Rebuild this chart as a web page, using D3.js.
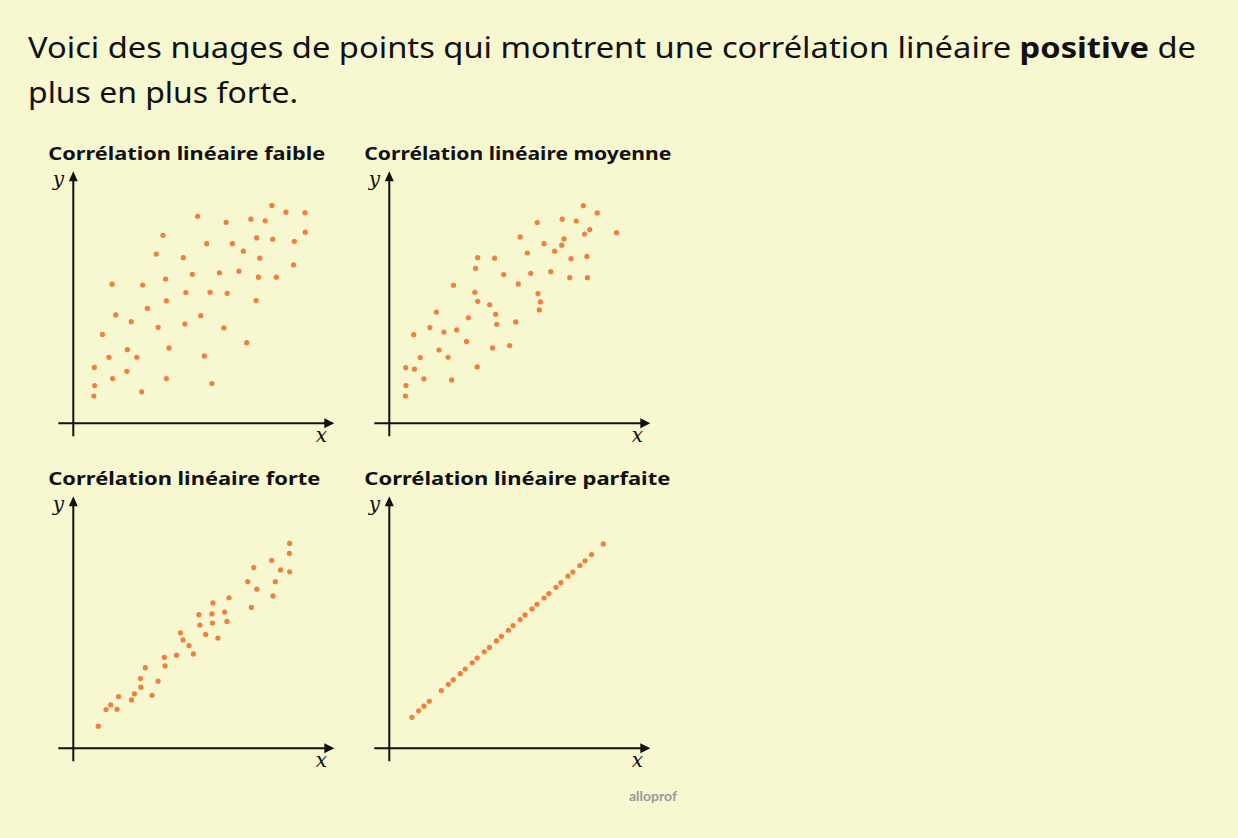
<!DOCTYPE html>
<html>
<head>
<meta charset="utf-8">
<script src="https://d3js.org/d3.v7.min.js"></script>
<style>
  body { margin: 0; background: #f7f7d0; }
  svg { display: block; }
</style>
</head>
<body>
<svg id="chart" width="1238" height="838"></svg>
<script>
// panel titles
const titles = ["Corrélation linéaire faible", "Corrélation linéaire moyenne",
                "Corrélation linéaire forte", "Corrélation linéaire parfaite"];

// points, x and y on a 0-100 scale
const faibleX = [7.9,8.2,8.1,15.1,13.7,11.2,16.3,14.9,20.6,20.8,24.4,26.3,22.3,28.5,26.7,32.6,31.9,34.5,35.5,35.8,36.8,35.8,42.3,43.3,42.9,45.8,47.8,49.0,50.4,51.3,52.6,53.3,56.2,57.9,58.8,59.2,61.2,63.7,65.4,66.7,68.3,70.3,70.5,71.2,71.7,73.8,76.4,76.7,78.1,81.8,84.7,85.0,89.1,89.2];
const faibleY = [10.5,14.5,21.5,17.2,25.4,34.2,41.7,53.5,20.0,28.3,25.4,12.1,39.1,44.2,53.2,36.9,65.1,72.3,55.5,47.1,29.0,17.2,63.7,50.3,38.2,57.3,79.6,41.4,25.9,69.1,50.4,15.3,57.9,36.7,77.3,50.0,69.1,58.5,66.2,31.0,78.5,47.2,71.3,56.2,63.5,77.9,83.8,70.8,56.2,81.2,60.9,70.0,81.0,73.5];

const moyenneX = [6.2,6.4,6.3,9.7,13.3,11.9,9.4,15.6,18.1,19.1,21.0,22.6,24.0,25.9,24.7,29.7,30.4,32.9,34.0,33.2,34.0,33.8,38.6,39.7,40.9,41.3,40.5,44.0,46.3,48.6,49.6,50.3,53.1,54.4,56.9,57.2,58.1,57.7,59.5,62.1,63.6,66.3,67.2,66.5,69.4,69.9,71.9,74.6,75.1,77.1,76.2,76.0,80.0,87.4];
const moyenneY = [10.5,14.5,21.4,20.8,17.1,25.3,34.1,36.8,42.8,28.2,35.1,25.4,16.7,35.9,53.1,31.5,40.6,50.4,46.9,59.6,63.7,21.7,45.6,29.0,41.9,38.1,63.5,57.2,29.9,39.0,53.6,71.7,65.5,57.7,77.2,49.9,46.7,43.6,69.1,58.3,66.2,68.5,70.9,78.5,56.0,63.3,77.8,83.7,72.8,74.5,56.0,64.2,80.9,73.3];

const forteX = [9.6,12.6,14.4,16.8,17.4,22.4,23.5,25.8,26.0,27.7,30.3,32.6,35.0,35.3,39.7,41.2,42.2,44.5,46.2,48.3,48.7,50.9,53.3,53.7,53.5,55.6,58.2,59.1,59.9,67.1,69.4,70.6,68.5,76.3,77.7,76.8,79.7,83.2,83.1,83.2];
const forteY = [8.5,14.9,16.7,15.0,19.9,18.6,20.9,26.8,23.5,31.0,20.4,25.8,35.0,31.7,35.8,44.4,41.7,39.5,36.3,51.4,47.4,43.8,51.7,55.9,48.2,42.4,52.4,48.8,57.9,64.1,69.5,61.2,54.2,72.3,64.1,58.6,68.6,78.8,75.0,67.9];

const parfaiteX = [8.7,11.3,13.3,15.4,20.0,22.7,24.6,27.3,29.2,31.9,33.8,36.5,38.5,41.2,43.1,45.8,47.6,50.3,52.2,54.9,56.8,59.5,61.4,64.1,66.0,68.7,70.6,73.3,75.3,77.8,82.3];
const parfaiteY = [11.9,14.4,16.2,18.1,22.2,24.6,26.4,28.7,30.5,32.9,34.7,37.1,38.8,41.3,43.1,45.4,47.2,49.5,51.3,53.6,55.4,57.8,59.5,61.9,63.7,66.2,67.8,70.3,72.1,74.5,78.6];

const seriesX = [faibleX, moyenneX, forteX, parfaiteX];
const seriesY = [faibleY, moyenneY, forteY, parfaiteY];

const svg = d3.select("#chart");
const ink = "#111";
const dotColor = "#f0803c";

// heading
const head = svg.append("text")
    .attr("x", 28).attr("y", 58)
    .attr("font-family", "Noto Sans").attr("font-size", 28.5).attr("fill", ink)
    .attr("textLength", 1168).attr("lengthAdjust", "spacingAndGlyphs");
head.append("tspan").text("Voici des nuages de points qui montrent une corrélation linéaire ");
head.append("tspan").attr("font-weight", "bold").text("positive");
head.append("tspan").text(" de");
svg.append("text")
    .attr("x", 28).attr("y", 103)
    .attr("font-family", "Noto Sans").attr("font-size", 28.5).attr("fill", ink)
    .attr("textLength", 270).attr("lengthAdjust", "spacingAndGlyphs")
    .text("plus en plus forte.");

const x = d3.scaleLinear().domain([0, 100]).range([0, 260]);
const y = d3.scaleLinear().domain([0, 100]).range([0, -260]);

const origins = [[73.3, 423.3], [389.3, 423.3], [73.3, 748.3], [389.3, 748.3]];
const titleWidths = [277, 307, 272, 306];

titles.forEach((t, i) => {
  const [ox, oy] = origins[i];

  svg.append("text")
     .attr("x", ox - 25).attr("y", oy - 263)
     .attr("font-family", "Noto Sans").attr("font-weight", "bold")
     .attr("font-size", 17.5).attr("fill", ink)
     .attr("textLength", titleWidths[i]).attr("lengthAdjust", "spacingAndGlyphs")
     .text(t);

  const g = svg.append("g").attr("transform", "translate(" + ox + "," + oy + ")");

  // axes with arrow heads
  g.append("line").attr("x1", -15).attr("y1", 0).attr("x2", 253).attr("y2", 0)
   .attr("stroke", ink).attr("stroke-width", 2);
  g.append("path").attr("d", "M261,0 L251,-5 L251,5 Z").attr("fill", ink);
  g.append("line").attr("x1", 0).attr("y1", 13).attr("x2", 0).attr("y2", -243)
   .attr("stroke", ink).attr("stroke-width", 2);
  g.append("path").attr("d", "M0,-252 L-4.5,-242 L4.5,-242 Z").attr("fill", ink);

  g.append("text").attr("x", 248).attr("y", 19)
   .attr("font-family", "DejaVu Serif").attr("font-style", "italic")
   .attr("font-size", 20).attr("fill", ink).attr("text-anchor", "middle").text("x");
  g.append("text").attr("x", -15).attr("y", -237)
   .attr("font-family", "DejaVu Serif").attr("font-style", "italic")
   .attr("font-size", 20).attr("fill", ink).attr("text-anchor", "middle").text("y");

  const pts = seriesX[i].map((v, k) => ({x: v, y: seriesY[i][k]}));
  g.selectAll("circle")
   .data(pts)
   .join("circle")
   .attr("cx", d => x(d.x))
   .attr("cy", d => y(d.y))
   .attr("r", 2.6)
   .attr("fill", dotColor);
});

svg.append("text")
   .attr("x", 653).attr("y", 801)
   .attr("text-anchor", "middle")
   .attr("font-family", "Lato").attr("font-weight", "bold")
   .attr("font-size", 14).attr("fill", "#999")
   .text("alloprof");
</script>
</body>
</html>
